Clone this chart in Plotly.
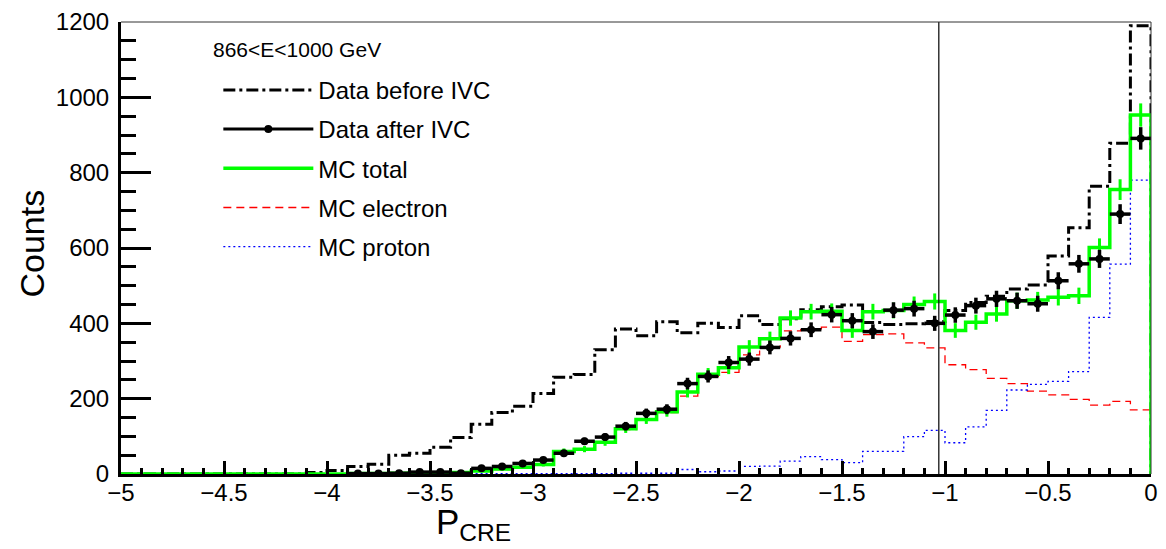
import numpy as np
import plotly.graph_objects as go

# ---------------- data (50 bins of width 0.1 from -5 to 0) ----------------
bin_edges = np.round(np.linspace(-5.0, 0.0, 51), 2)
bin_centers = np.round((bin_edges[:-1] + bin_edges[1:]) / 2, 3)

data_before_ivc = [0, 0, 0, 0, 0, 0, 0, 0, 0, 4,
                   9, 20, 26, 50, 55, 71, 97, 132, 163, 180,
                   214, 257, 264, 330, 385, 367, 404, 375, 400, 389,
                   420, 397, 412, 436, 444, 449, 402, 397, 399, 405,
                   434, 455, 472, 491, 502, 579, 654, 764, 878, 1190]

data_after_ivc = [None, None, None, None, None, None, None, None, None, None,
                  None, 1, 1, 2, 5, 5, 2, 15, 20, 28,
                  37, 55, 87, 98, 127, 161, 172, 240, 259, 296,
                  305, 336, 360, 383, 423, 407, 378, 435, 439, 400,
                  422, 447, 465, 460, 452, 513, 558, 571, 690, 891]

mc_total = [0, 0, 0, 0, 0, 0, 0, 0, 0, 0,
            0, 1, 1, 2, 3, 3, 4, 8, 13, 18,
            25, 60, 66, 84, 120, 145, 165, 218, 265, 282,
            337, 359, 414, 431, 432, 381, 431, 434, 450, 458,
            381, 403, 425, 460, 462, 469, 473, 601, 755, 953]

mc_electron = [0, 0, 0, 0, 0, 0, 0, 0, 0, 0,
               0, 1, 1, 2, 3, 3, 4, 7, 12, 17,
               24, 59, 65, 83, 118, 143, 163, 207, 259, 270,
               316, 337, 380, 383, 390, 352, 370, 372, 348, 335,
               290, 277, 254, 240, 220, 210, 198, 183, 193, 170]

mc_proton = [0, 0, 0, 0, 0, 0, 0, 0, 0, 0,
             0, 0, 0, 0, 0, 0, 0, 1, 1, 1,
             1, 1, 1, 1, 2, 2, 2, 12, 6, 8,
             20, 21, 34, 46, 38, 30, 60, 60, 99, 116,
             83, 125, 169, 223, 238, 246, 272, 416, 557, 780]

ivc_cut = -1.03
energy_label = "866<E<1000 GeV"
x_ticks = [-5, -4.5, -4, -3.5, -3, -2.5, -2, -1.5, -1, -0.5, 0]
y_ticks = [0, 200, 400, 600, 800, 1000, 1200]

FONT = "Liberation Sans, Arial, Helvetica, sans-serif"


def step_xy(values):
    xs = list(bin_edges)
    ys = list(values) + [0]
    return xs, ys


fig = go.Figure()

# MC electron (red dashed)
x, y = step_xy(mc_electron)
fig.add_trace(go.Scatter(x=x, y=y, mode="lines", line_shape="hv",
                         line=dict(color="#ff0000", width=1.3, dash="8px,5px"),
                         showlegend=False, hoverinfo="skip"))
# MC proton (blue dotted)
x, y = step_xy(mc_proton)
fig.add_trace(go.Scatter(x=x, y=y, mode="lines", line_shape="hv",
                         line=dict(color="#0000ff", width=1.3, dash="2px,3px"),
                         showlegend=False, hoverinfo="skip"))
# Data before IVC (black dash-dot)
x, y = step_xy(data_before_ivc)
fig.add_trace(go.Scatter(x=x, y=y, mode="lines", line_shape="hv",
                         line=dict(color="black", width=3, dash="12px,4px,3px,4px"),
                         showlegend=False, hoverinfo="skip"))
# MC total (green)
x, y = step_xy(mc_total)
fig.add_trace(go.Scatter(x=x, y=y, mode="lines", line_shape="hv",
                         line=dict(color="#00ff00", width=3.5),
                         showlegend=False, hoverinfo="skip"))
mc_c = [c for c, v in zip(bin_centers, mc_total) if v > 0]
mc_v = [v for v in mc_total if v > 0]
fig.add_trace(go.Scatter(x=mc_c, y=mc_v, mode="markers",
                         marker=dict(size=1, color="rgba(0,0,0,0)"),
                         error_y=dict(type="data", array=list(np.sqrt(mc_v)),
                                      color="#00ff00", thickness=3, width=0),
                         showlegend=False, hoverinfo="skip"))
# Data after IVC (black points with errors)
da_c = [c for c, v in zip(bin_centers, data_after_ivc) if v is not None]
da_v = [v for v in data_after_ivc if v is not None]
fig.add_trace(go.Scatter(x=da_c, y=da_v, mode="markers",
                         marker=dict(size=8, color="black", symbol="circle"),
                         error_y=dict(type="data", array=list(np.sqrt(da_v)),
                                      color="black", thickness=3.5, width=0),
                         error_x=dict(type="constant", value=0.05,
                                      color="black", thickness=3.5, width=0),
                         showlegend=False, hoverinfo="skip"))

# legend entries
legend_items = [
    ("Data before IVC", dict(mode="lines", line=dict(color="black", width=3, dash="12px,4px,3px,4px"))),
    ("Data after IVC", dict(mode="lines+markers", line=dict(color="black", width=3),
                            marker=dict(size=8, color="black"))),
    ("MC total", dict(mode="lines", line=dict(color="#00ff00", width=3.5))),
    ("MC electron", dict(mode="lines", line=dict(color="#ff0000", width=1.3, dash="8px,5px"))),
    ("MC proton", dict(mode="lines", line=dict(color="#0000ff", width=1.3, dash="2px,3px"))),
]
for i, (name, style) in enumerate(legend_items):
    fig.add_trace(go.Scatter(x=[None], y=[None], name=name, legendgroup=f"g{i}",
                             showlegend=True, **style))

fig.add_shape(type="line", xref="x", yref="paper", x0=ivc_cut, x1=ivc_cut, y0=0, y1=1,
              line=dict(color="black", width=1.2))
fig.add_shape(type="line", xref="paper", yref="paper", x0=0, x1=1, y0=1, y1=1,
              line=dict(color="#333333", width=1))
fig.add_shape(type="line", xref="paper", yref="paper", x0=1, x1=1, y0=0, y1=1,
              line=dict(color="#333333", width=1))

fig.add_annotation(text=energy_label, xref="paper", yref="paper",
                   x=(212 - 121) / 1037, y=(474 - 48) / 454, xanchor="left", yanchor="middle",
                   showarrow=False, font=dict(size=21, color="black", family=FONT))
fig.add_annotation(text="P<sub>CRE</sub>", xref="paper", yref="paper",
                   x=0.342, y=(474 - 548) / 454, xanchor="center", yanchor="bottom",
                   showarrow=False, font=dict(size=35, color="black", family=FONT))
fig.add_annotation(text="Counts", xref="paper", yref="paper", textangle=-90,
                   x=-0.0868, y=0.509, xanchor="center", yanchor="middle",
                   showarrow=False, font=dict(size=34, color="black", family=FONT))

fig.update_xaxes(range=[-5, 0], tickvals=x_ticks, ticks="inside", ticklen=13, tickwidth=3,
                 tickcolor="black", showline=True, linewidth=3, linecolor="black",
                 showgrid=False, zeroline=False, mirror=False, ticklabelstandoff=-5,
                 tickfont=dict(size=24, color="black", family=FONT),
                 minor=dict(dtick=0.1, ticks="inside", ticklen=6, tickwidth=3, tickcolor="black"))
fig.update_yaxes(range=[0, 1200], tickvals=y_ticks, ticks="inside", ticklen=30, tickwidth=3,
                 tickcolor="black", showline=True, linewidth=3, linecolor="black",
                 showgrid=False, zeroline=False, mirror=False, ticklabelstandoff=4,
                 tickfont=dict(size=24, color="black", family=FONT),
                 minor=dict(dtick=50, ticks="inside", ticklen=15, tickwidth=3, tickcolor="black"))

fig.update_layout(
    width=1166, height=549, autosize=False,
    margin=dict(l=121, r=8, t=20, b=75),
    plot_bgcolor="white", paper_bgcolor="white",
    font=dict(family=FONT, color="black"),
    legend=dict(x=(219 - 121) / 1037, y=(474 - 66) / 454, xanchor="left", yanchor="top",
                bgcolor="rgba(0,0,0,0)", borderwidth=0, itemwidth=90,
                tracegroupgap=5,
                font=dict(size=24, color="black", family=FONT)),
)

fig.write_html("out.html")
